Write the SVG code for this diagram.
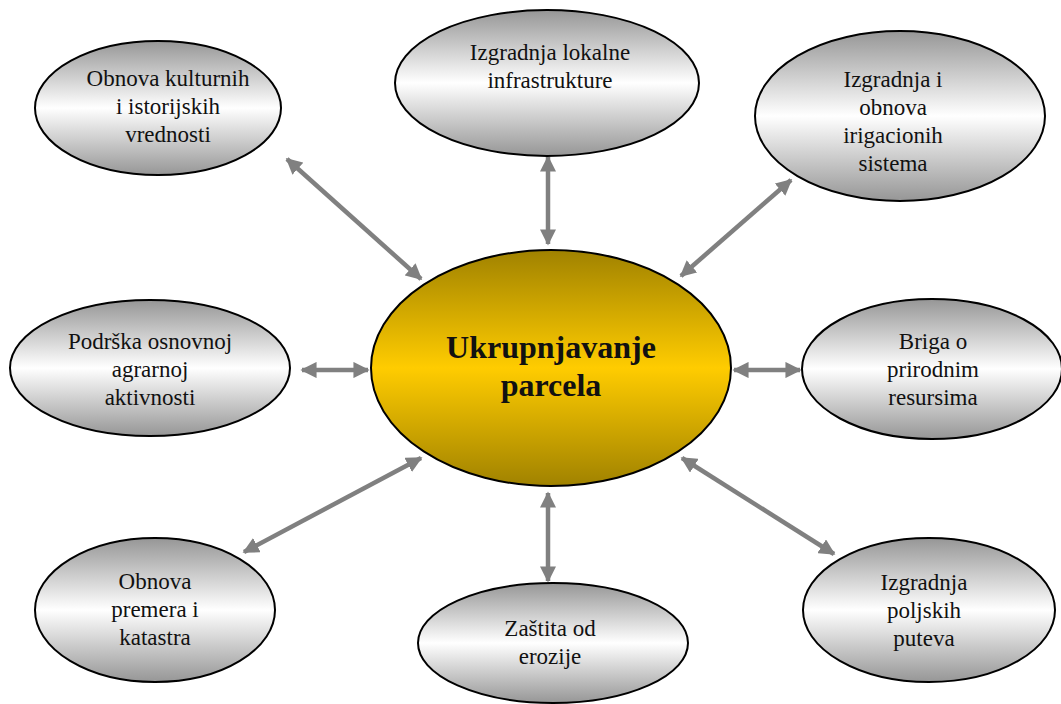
<svg xmlns="http://www.w3.org/2000/svg" width="1061" height="704" viewBox="0 0 1061 704">
  <defs>
    <linearGradient id="gSilver" x1="0" y1="0" x2="0" y2="1">
      <stop offset="0" stop-color="#969696"/>
      <stop offset="0.5" stop-color="#ffffff"/>
      <stop offset="1" stop-color="#969696"/>
    </linearGradient>
    <linearGradient id="gGold" x1="0" y1="0" x2="0" y2="1">
      <stop offset="0" stop-color="#a08200"/>
      <stop offset="0.5" stop-color="#ffcc00"/>
      <stop offset="1" stop-color="#a08200"/>
    </linearGradient>
    <marker id="head" viewBox="0 0 10 10" refX="9" refY="5" markerWidth="3.6" markerHeight="3.6" orient="auto-start-reverse" markerUnits="strokeWidth">
      <path d="M0,0 L10,5 L0,10 Z" fill="#808080"/>
    </marker>
  </defs>
  <style>
    .node { fill: url(#gSilver); stroke: #000; stroke-width: 2; }
    .hub { fill: url(#gGold); stroke: #000; stroke-width: 2; }
    text { font-family: 'Liberation Serif', 'DejaVu Serif', serif; fill: #111; text-anchor: middle; }
    .lbl { font-size: 23px; }
    .hubLbl { font-size: 32px; font-weight: bold; }
    .link { stroke: #808080; stroke-width: 4.5; fill: none; marker-start: url(#head); marker-end: url(#head); }
  </style>

  <!-- connectors between the hub and each activity -->
  <g id="connectors">
    <line class="link" x1="287" y1="159" x2="421" y2="279"/>
    <line class="link" x1="548" y1="157" x2="548" y2="244"/>
    <line class="link" x1="791" y1="180" x2="681" y2="276"/>
    <line class="link" x1="302" y1="370" x2="368" y2="370"/>
    <line class="link" x1="734" y1="370" x2="800" y2="370"/>
    <line class="link" x1="244" y1="552" x2="421" y2="458"/>
    <line class="link" x1="548" y1="493" x2="548" y2="581"/>
    <line class="link" x1="682" y1="458" x2="834" y2="554"/>
  </g>

  <g id="hub">
    <ellipse class="hub" cx="551" cy="368" rx="180" ry="118"/>
    <text class="hubLbl" x="551" y="358">Ukrupnjavanje</text>
    <text class="hubLbl" x="551" y="396">parcela</text>
  </g>

  <g id="n-kultura">
    <ellipse class="node" cx="158" cy="108" rx="123" ry="67"/>
    <text class="lbl" x="168" y="86">Obnova kulturnih</text>
    <text class="lbl" x="168" y="114">i istorijskih</text>
    <text class="lbl" x="168" y="142">vrednosti</text>
  </g>

  <g id="n-infrastruktura">
    <ellipse class="node" cx="547" cy="83" rx="152" ry="73"/>
    <text class="lbl" x="550" y="60">Izgradnja lokalne</text>
    <text class="lbl" x="550" y="88">infrastrukture</text>
  </g>

  <g id="n-irigacija">
    <ellipse class="node" cx="900" cy="116" rx="145" ry="85"/>
    <text class="lbl" x="893" y="87">Izgradnja i</text>
    <text class="lbl" x="893" y="115">obnova</text>
    <text class="lbl" x="893" y="143">irigacionih</text>
    <text class="lbl" x="893" y="171">sistema</text>
  </g>

  <g id="n-agrar">
    <ellipse class="node" cx="150" cy="368" rx="140" ry="68"/>
    <text class="lbl" x="150" y="349">Podrška osnovnoj</text>
    <text class="lbl" x="150" y="377">agrarnoj</text>
    <text class="lbl" x="150" y="405">aktivnosti</text>
  </g>

  <g id="n-resursi">
    <ellipse class="node" cx="932" cy="369" rx="130" ry="70"/>
    <text class="lbl" x="933" y="349">Briga o</text>
    <text class="lbl" x="933" y="377">prirodnim</text>
    <text class="lbl" x="933" y="405">resursima</text>
  </g>

  <g id="n-katastar">
    <ellipse class="node" cx="155" cy="610" rx="120" ry="72"/>
    <text class="lbl" x="155" y="589">Obnova</text>
    <text class="lbl" x="155" y="617">premera i</text>
    <text class="lbl" x="155" y="645">katastra</text>
  </g>

  <g id="n-erozija">
    <ellipse class="node" cx="553" cy="643" rx="135" ry="60"/>
    <text class="lbl" x="550" y="636">Zaštita od</text>
    <text class="lbl" x="550" y="664">erozije</text>
  </g>

  <g id="n-putevi">
    <ellipse class="node" cx="929" cy="610" rx="126" ry="72"/>
    <text class="lbl" x="924" y="590">Izgradnja</text>
    <text class="lbl" x="924" y="618">poljskih</text>
    <text class="lbl" x="924" y="646">puteva</text>
  </g>
</svg>
